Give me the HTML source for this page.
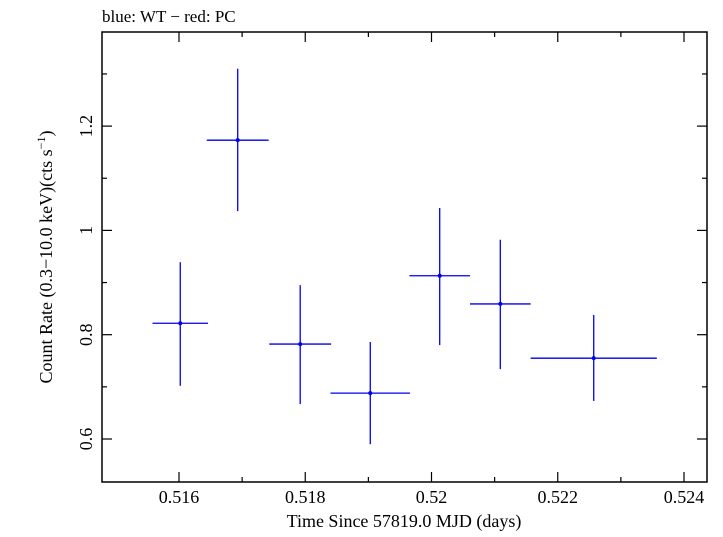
<!DOCTYPE html>
<html><head><meta charset="utf-8"><style>
body{margin:0;background:#fff;}
svg text{font-family:"Liberation Serif",serif;fill:#000;}
</style></head><body>
<svg id="chart" width="723" height="532" xmlns="http://www.w3.org/2000/svg">
<text x="102" y="22" font-size="17">blue: WT − red: PC</text>
<rect x="102" y="32" width="605" height="450" fill="none" stroke="#000" stroke-width="1.5"/>
<g id="ticks"></g>
<g id="marks"></g>
<text x="404" y="527" font-size="18" text-anchor="middle">Time Since 57819.0 MJD (days)</text>
<text transform="translate(52,257) rotate(-90)" font-size="18" text-anchor="middle">Count Rate (0.3−10.0 keV)(cts s<tspan font-size="12" dy="-7">−1</tspan><tspan dy="7">)</tspan></text>
</svg>
<script>
const times=[0.51602,0.51693,0.51792,0.51903,0.52013,0.52109,0.52257];
const timeErr=[0.00044,0.00049,0.00049,0.00063,0.00048,0.00048,0.00100];
const rates=[0.822,1.173,0.782,0.688,0.913,0.859,0.755];
const rateHi=[0.939,1.310,0.895,0.786,1.043,0.982,0.838];
const rateLo=[0.702,1.037,0.667,0.590,0.780,0.734,0.673];
const xTicks=[0.516,0.518,0.520,0.522,0.524];
const xTickLabels=["0.516","0.518","0.52","0.522","0.524"];
const yTicks=[0.6,0.8,1.0,1.2];
const yTickLabels=["0.6","0.8","1","1.2"];
const X=v=>179+(v-0.516)*63125;
const Y=v=>439-(v-0.6)*521.5;
const NS="http://www.w3.org/2000/svg";
function mk(tag,attrs,parent){const e=document.createElementNS(NS,tag);for(const k in attrs)e.setAttribute(k,attrs[k]);parent.appendChild(e);return e;}
const tg=document.getElementById('ticks'),mg=document.getElementById('marks');
xTicks.forEach((v,i)=>{const x=X(v);
 let t=mk('line',{x1:x,x2:x,y1:482,y2:472,stroke:'#000','stroke-width':1.2},tg);
 
 
 let t2=mk('line',{x1:x,x2:x,y1:32,y2:42,stroke:'#000','stroke-width':1.2},tg);
 
 
 const xm=X(v+0.001);
 if(xm<707){let m=mk('line',{x1:xm,x2:xm,y1:482,y2:477,stroke:'#000','stroke-width':1.2},tg);
 
 
 let m2=mk('line',{x1:xm,x2:xm,y1:32,y2:37,stroke:'#000','stroke-width':1.2},tg);
 
 }
 const l=mk('text',{x:x,y:503,'font-size':18,'text-anchor':'middle'},tg);l.textContent=xTickLabels[i];
 
 
});
yTicks.forEach((v,i)=>{const y=Y(v);
 let t=mk('line',{x1:102,x2:112,y1:y,y2:y,stroke:'#000','stroke-width':1.2},tg);
 
 
 let t2=mk('line',{x1:697,x2:707,y1:y,y2:y,stroke:'#000','stroke-width':1.2},tg);
 
 
 const ym=Y(v+0.1);
 let m=mk('line',{x1:102,x2:107,y1:ym,y2:ym,stroke:'#000','stroke-width':1.2},tg);
 
 
 let m2=mk('line',{x1:702,x2:707,y1:ym,y2:ym,stroke:'#000','stroke-width':1.2},tg);
 
 
 const l=mk('text',{transform:`translate(92,${y}) rotate(-90)`,'font-size':18,'text-anchor':'middle'},tg);l.textContent=yTickLabels[i];
 
 
});
times.forEach((t,i)=>{
 const g=mk('g',{},mg);
 
 
 mk('line',{x1:X(t-timeErr[i]),x2:X(t+timeErr[i]),y1:Y(rates[i]),y2:Y(rates[i]),stroke:'#0000ee','stroke-width':1.3},g);
 mk('line',{x1:X(t),x2:X(t),y1:Y(rateHi[i]),y2:Y(rateLo[i]),stroke:'#0000ee','stroke-width':1.3},g);
 mk('circle',{cx:X(t),cy:Y(rates[i]),r:2,fill:'#0000ee'},g);
});
</script>
</body></html>
